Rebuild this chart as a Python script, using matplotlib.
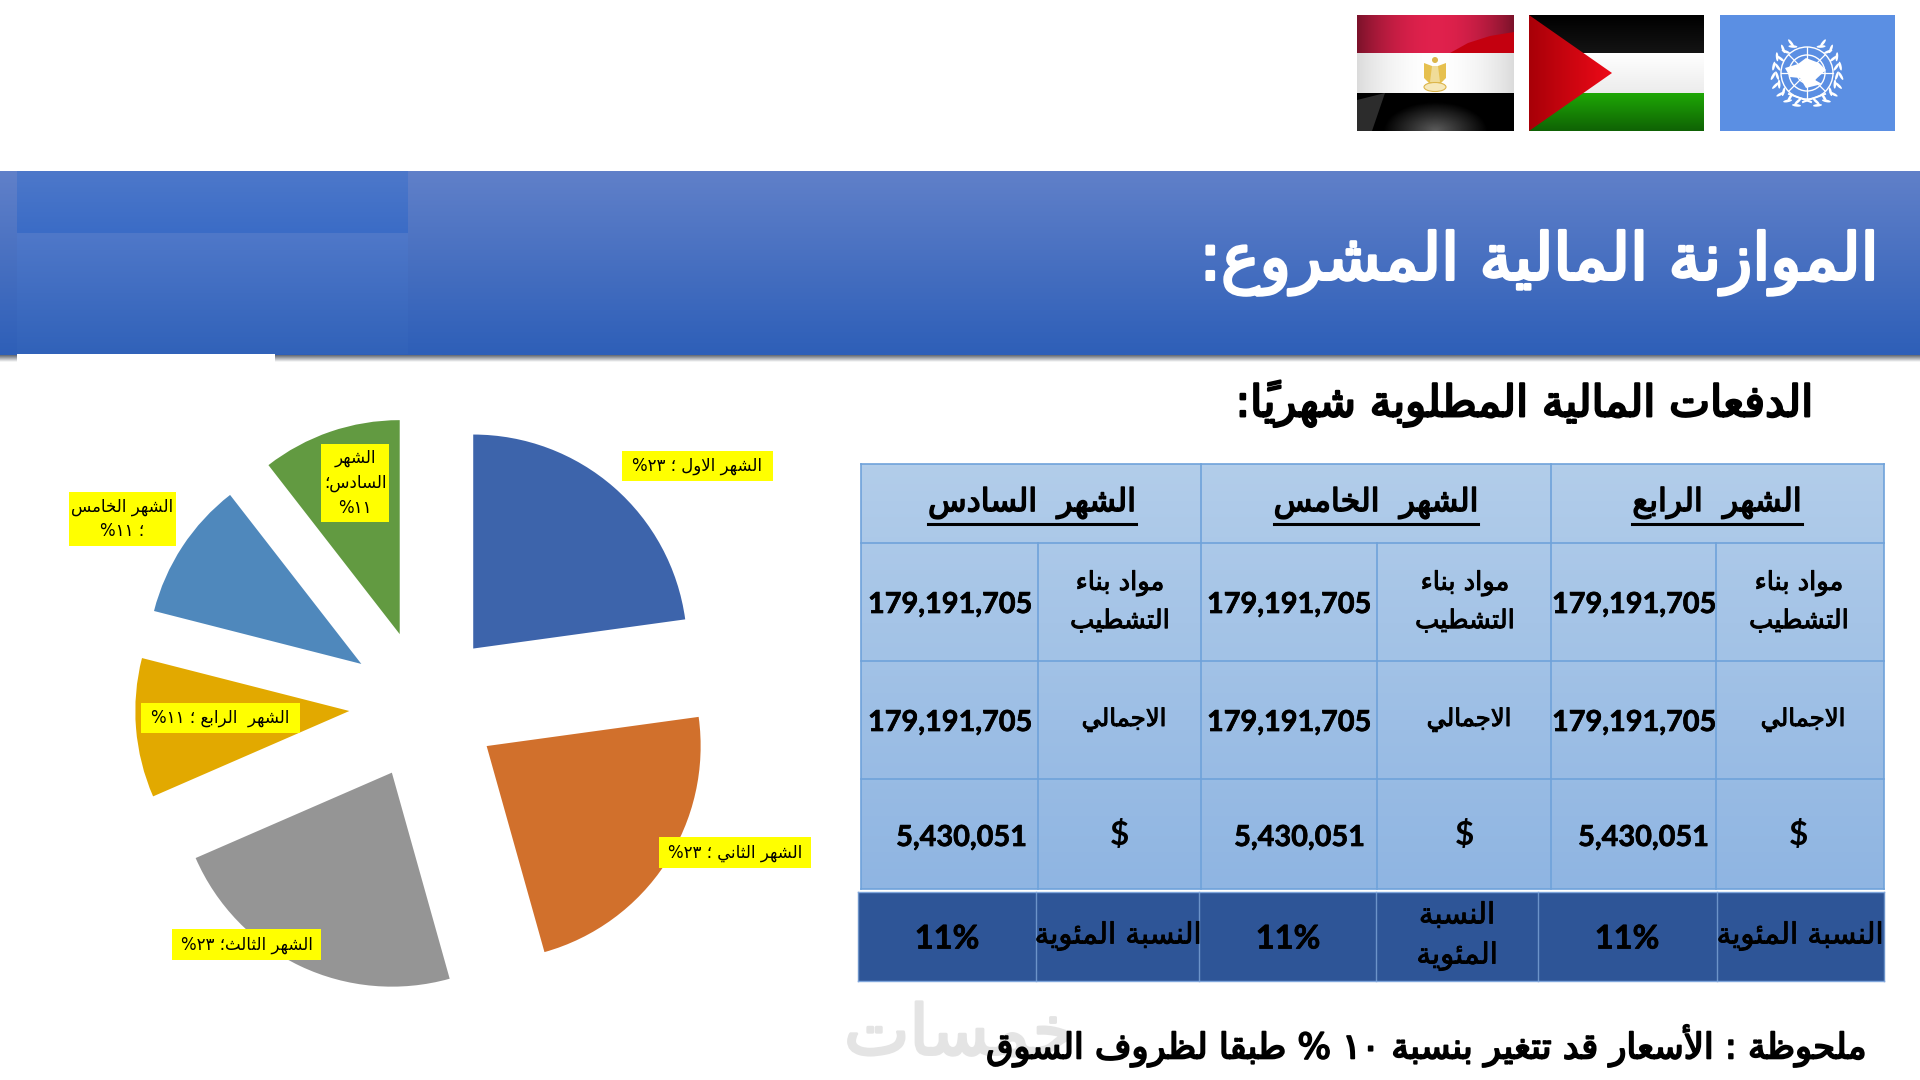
import numpy as np
import matplotlib
matplotlib.use('Agg')
import matplotlib.pyplot as plt
import matplotlib.patheffects as pe
from matplotlib.colors import LinearSegmentedColormap
from matplotlib.patches import Circle, Polygon, Rectangle, Ellipse

# data
shares = [22.8, 22.8, 22.8, 10.5, 10.5, 10.5]
pie_colors = ['#3d64ab', '#d1702c', '#959595', '#e2a900', '#4f88bc', '#629a41']
pie_labels = ['الشهر الاول ؛ ٢٣%', 'الشهر الثاني ؛ ٢٣%', 'الشهر الثالث؛ ٢٣%',
              'الشهر  الرابع ؛ ١١%', 'الشهر الخامس\n؛ ١١%', 'الشهر\nالسادس؛\n١١%']

table_months = ['الشهر  الرابع', 'الشهر  الخامس', 'الشهر  السادس']
row_names = ['مواد بناء\nالتشطيب', 'الاجمالي', '$']
row_values = ['179,191,705', '179,191,705', '5,430,051']
pct_name = ['النسبة المئوية', 'النسبة\nالمئوية', 'النسبة المئوية']
pct_value = '11%'

title = 'الموازنة المالية المشروع:'
subtitle = 'الدفعات المالية المطلوبة شهرياً:'
note = 'ملحوظة : الأسعار قد تتغير بنسبة ١٠ % طبقا لظروف السوق'
mark = 'خمسات'

# arabic shaping, matplotlib draws glyphs one after the other
FOUR = 'ئبتثجحخسشصضطظعغفقكلمنهي'
ORDER = 'ءآأؤإئابةتثجحخدذرزسشصضطظعغفقكلمنهوىي'
forms = {}
code = 0xFE80
for ch in ORDER:
    n = 1 if ch == 'ء' else (4 if ch in FOUR else 2)
    forms[ch] = [chr(code + i) for i in range(n)]
    code += n
lam_alef = {'آ': 0xFEF5, 'أ': 0xFEF7, 'إ': 0xFEF9, 'ا': 0xFEFB}
MARKS = '\u064b'
DIGITS = '٠١٢٣٤٥٦٧٨٩'


def joins_next(ch):
    return ch in forms and len(forms[ch]) == 4


def shape_line(text):
    chars = list(text)
    out = []
    i = 0
    prev = None
    while i < len(chars):
        c = chars[i]
        if c in MARKS:
            out[-1] += c
            i += 1
            continue
        if c not in forms:
            out.append(c)
            prev = None
            i += 1
            continue
        before = prev is not None and joins_next(prev)
        if c == 'ل' and i + 1 < len(chars) and chars[i + 1] in lam_alef:
            out.append(chr(lam_alef[chars[i + 1]] + (1 if before else 0)))
            prev = 'ا'
            i += 2
            continue
        j = i + 1
        while j < len(chars) and chars[j] in MARKS:
            j += 1
        after = joins_next(c) and j < len(chars) and chars[j] in forms
        f = forms[c]
        if len(f) == 1:
            g = f[0]
        elif len(f) == 2:
            g = f[1] if before else f[0]
        elif before and after:
            g = f[3]
        elif before:
            g = f[1]
        elif after:
            g = f[2]
        else:
            g = f[0]
        out.append(g)
        prev = c
        i += 1
    # visual order, number runs stay left to right
    runs = []
    for g in out:
        if g in DIGITS and runs and runs[-1][-1] in DIGITS:
            runs[-1] += g
        else:
            runs.append(g)
    return ''.join(reversed(runs))


def ar(text):
    return '\n'.join(shape_line(t) for t in text.split('\n'))


def heavy(width, color='black'):
    # DejaVu bold is much wider than the slide font, so thicken the regular weight
    return [pe.withStroke(linewidth=width, foreground=color)]


fig = plt.figure(figsize=(19.2, 10.8), dpi=100, facecolor='white')
bg = fig.add_axes([0, 0, 1, 1], zorder=0)
top = fig.add_axes([0, 0, 1, 1], zorder=2)
for a in (bg, top):
    a.axis('off')
top.patch.set_alpha(0)
top.set_xlim(0, 1920)
top.set_ylim(1080, 0)


def gradient(ax, box, c0, c1, zorder=1):
    x0, x1, y0, y1 = box
    cm = LinearSegmentedColormap.from_list('g', [c0, c1])
    ax.imshow(np.linspace(0, 1, 128)[:, None], cmap=cm, extent=(x0, x1, y1, y0), aspect='auto', zorder=zorder)


def shaded(ax, box, rgb, low=0.55, hi=1.0, zorder=2):
    # flag stripe, brighter in the middle
    x0, x1, y0, y1 = box
    t = np.abs(np.linspace(-1, 1, 200))
    k = hi - (hi - low) * t**2
    img = np.ones((1, 200, 3)) * np.array(rgb) * k[None, :, None]
    ax.imshow(np.clip(img, 0, 1), extent=(x0, x1, y1, y0), aspect='auto', zorder=zorder)


# header band
gradient(bg, (0, 1920, 355, 362), '#5f6570', '#ffffff')
gradient(bg, (0, 1920, 171, 355), '#6080c9', '#2e5fb8')
gradient(bg, (17, 408, 171, 233), '#4d78ca', '#3b6cc6', zorder=2)
gradient(bg, (17, 408, 233, 354), '#4f78c9', '#3162b9', zorder=2)
bg.add_patch(Rectangle((17, 354), 258, 9, color='white', lw=0, zorder=3))

# egypt flag
shaded(bg, (1357, 1514, 15, 53), (0.88, 0.13, 0.30), low=0.55)
bg.add_patch(Polygon([(1450, 53), (1468, 43), (1490, 36), (1514, 32), (1514, 53)], color='#c4000f', lw=0, zorder=3))
shaded(bg, (1357, 1514, 53, 93), (1, 1, 1), low=0.86, zorder=4)
bg.add_patch(Rectangle((1357, 93), 157, 38, color='#040404', lw=0, zorder=2))
glow_y, glow_x = np.mgrid[0:1:40j, -1:1:160j]
glow = np.clip(1 - np.hypot(glow_x * 1.5, (1 - glow_y) * 1.3), 0, 1) * 0.36
bg.imshow(glow, cmap='gray', vmin=0, vmax=1, extent=(1357, 1514, 131, 93), aspect='auto', zorder=3)
bg.add_patch(Polygon([(1357, 100), (1385, 93), (1372, 131), (1357, 131)], color='#2c2c2c', lw=0, zorder=3))
for s in (-1, 1):
    bg.add_patch(Polygon([(1435 + s * 11, 63), (1435 + s * 3, 66), (1435 + s * 3, 86), (1435 + s * 11, 78)],
                         color='#e6c04f', lw=0, zorder=5))
bg.add_patch(Polygon([(1432, 66), (1438, 66), (1440, 82), (1430, 82)], color='#f0dc98', lw=0, zorder=5))
bg.add_patch(Circle((1435, 60), 3, color='#dcb54a', lw=0, zorder=5))
bg.add_patch(Ellipse((1435, 87), 22, 9, fc='#f6e8ba', ec='#dcb54a', lw=0.8, zorder=5))

# palestine flag
gradient(bg, (1529, 1704, 15, 53), '#000000', '#141414', zorder=2)
gradient(bg, (1529, 1704, 53, 93), '#ffffff', '#ececec', zorder=2)
gradient(bg, (1529, 1704, 93, 131), '#1ea706', '#0f6204', zorder=2)
tri = np.linspace(0, 1, 100)[None, :]
tri_im = bg.imshow(tri, cmap=LinearSegmentedColormap.from_list('r', ['#a80008', '#ee0a18']),
                   extent=(1529, 1612, 131, 15), aspect='auto', zorder=3)
tri_im.set_clip_path(Polygon([(1529, 15), (1612, 73), (1529, 131)], transform=bg.transData))

# un flag
bg.add_patch(Rectangle((1720, 15), 175, 116, color='#5b8fe3', lw=0, zorder=2))
for r in (26, 18, 10):
    bg.add_patch(Circle((1807, 73), r, fill=False, ec='white', lw=1.0, zorder=3))
for a in np.arange(0, 180, 45):
    dx, dy = 26 * np.cos(np.radians(a)), 26 * np.sin(np.radians(a))
    bg.plot([1807 - dx, 1807 + dx], [73 - dy, 73 + dy], color='white', lw=0.9, zorder=3)
bg.add_patch(Polygon([(1785, 68), (1798, 64), (1806, 58), (1819, 63), (1826, 70), (1815, 80), (1822, 84),
                      (1806, 88), (1800, 78), (1790, 77)], color='white', lw=0, zorder=3))
for side in (-1, 1):
    for a in np.linspace(-72, 62, 9):
        ra = np.radians(a)
        for rad, off in ((30, 24), (34, -24)):
            bg.add_patch(Ellipse((1807 + side * rad * np.cos(ra), 73 - rad * np.sin(ra)), 2.6, 9,
                                 angle=side * (a + off), color='white', lw=0, zorder=3))
    bg.plot([1807 - side * 4, 1807 + side * 18], [102, 94], color='white', lw=1.4, zorder=3)

# table cells
gradient(bg, (861, 1884, 464, 889), '#b2cdea', '#8fb5e2')
bg.add_patch(Rectangle((858, 892), 1026, 89, color='#2e5597', lw=0, zorder=2))
line = '#6fa2da'
for x in (861, 1201, 1551, 1884):
    bg.plot([x, x], [464, 889], color=line, lw=1.2, zorder=3)
for x in (1038, 1377, 1716):
    bg.plot([x, x], [543, 889], color=line, lw=1.2, zorder=3)
for y in (464, 543, 661, 779, 889):
    bg.plot([861, 1884], [y, y], color=line, lw=1.2, zorder=3)
for x in (858, 1036, 1199, 1376, 1538, 1717, 1884):
    bg.plot([x, x], [892, 981], color='#6c93c9', lw=1.0, zorder=3)
for y in (892, 981):
    bg.plot([858, 1884], [y, y], color='#7fa6dc', lw=1.0, zorder=3)
bg.set_xlim(0, 1920)
bg.set_ylim(1080, 0)

# pie, centre (424,705) radius 214 px
lim = 1.6
px = 214 * lim
pie_ax = fig.add_axes([(424 - px) / 1920, 1 - (705 + px) / 1080, 2 * px / 1920, 2 * px / 1080], zorder=1)
pie_ax.pie(shares, colors=pie_colors, startangle=90, counterclock=False, explode=[0.35] * 6, radius=1)
pie_ax.set_xlim(-lim, lim)
pie_ax.set_ylim(-lim, lim)
pie_ax.patch.set_alpha(0)

# yellow data labels
label_boxes = [(622, 773, 451, 481), (659, 811, 837, 868), (172, 321, 929, 960),
               (141, 300, 703, 733), (69, 176, 492, 546), (321, 389, 444, 522)]
for box, lab in zip(label_boxes, pie_labels):
    x0, x1, y0, y1 = box
    top.add_patch(Rectangle((x0, y0), x1 - x0, y1 - y0, color='#ffff00', lw=0, zorder=3))
    top.text((x0 + x1) / 2, (y0 + y1) / 2, ar(lab), ha='center', va='center', fontsize=12,
             family='DejaVu Sans', linespacing=1.5, zorder=4)

# titles
top.text(1880, 263, ar(title), ha='right', va='center', fontsize=46.5, family='DejaVu Sans',
         color='white', zorder=5, path_effects=heavy(2.2, 'white'))
top.text(1815, 404, ar(subtitle), ha='right', va='center', fontsize=31.3, family='DejaVu Sans',
         color='black', zorder=5, path_effects=heavy(1.6))

# table text, right to left
fig.canvas.draw()
renderer = fig.canvas.get_renderer()
name_x = [1799, 1465, 1120]
value_x = [1634, 1289, 950]
value_right = [1709, 1365, 1027]
head_x = [1717, 1376, 1032]
for c in range(3):
    h = top.text(head_x[c], 503, ar(table_months[c]), ha='center', va='center', fontsize=22.8,
                 family='DejaVu Sans', zorder=5, path_effects=heavy(1.1))
    bb = h.get_window_extent(renderer)
    top.plot([bb.x0, bb.x1], [524, 524], color='black', lw=2.2, zorder=5)
    for r, y in enumerate((602, 720, 835)):
        dx = 4 if r == 1 else 0
        top.text(name_x[c] + dx, y, ar(row_names[r]), ha='center', va='center',
                 fontsize=(18.5, 17.5, 24)[r], family='Lato' if r == 2 else 'DejaVu Sans',
                 fontweight='bold' if r == 2 else 'normal', linespacing=1.6, zorder=5,
                 path_effects=heavy(0.7) if r < 2 else None)
        ha, vx = ('center', value_x[c]) if r < 2 else ('right', value_right[c])
        top.text(vx, y + 3, row_values[r], ha=ha, va='center', fontsize=20.8,
                 fontweight='bold', family='Lato', zorder=5, path_effects=heavy(0.5))

pct_name_x = [1800, 1457, 1118]
pct_value_x = [1627, 1288, 947]
for c in range(3):
    top.text(pct_name_x[c], 936, ar(pct_name[c]), ha='center', va='center', fontsize=21,
             family='DejaVu Sans', linespacing=1.55, zorder=5, path_effects=heavy(0.6))
    top.text(pct_value_x[c], 939, pct_value, ha='center', va='center', fontsize=23.5,
             fontweight='bold', family='Lato', zorder=5, path_effects=heavy(0.5))

# watermark and note
top.text(960, 1035, ar(mark), ha='center', va='center', fontsize=50, color='#e4e4e4',
         family='DejaVu Sans', zorder=3, path_effects=heavy(2, '#e4e4e4'))
top.text(1866, 1046, ar(note), ha='right', va='center', fontsize=25.4, family='DejaVu Sans',
         color='black', zorder=5, path_effects=heavy(1.3))

top.set_xlim(0, 1920)
top.set_ylim(1080, 0)

fig.savefig('out.png', dpi=100)
